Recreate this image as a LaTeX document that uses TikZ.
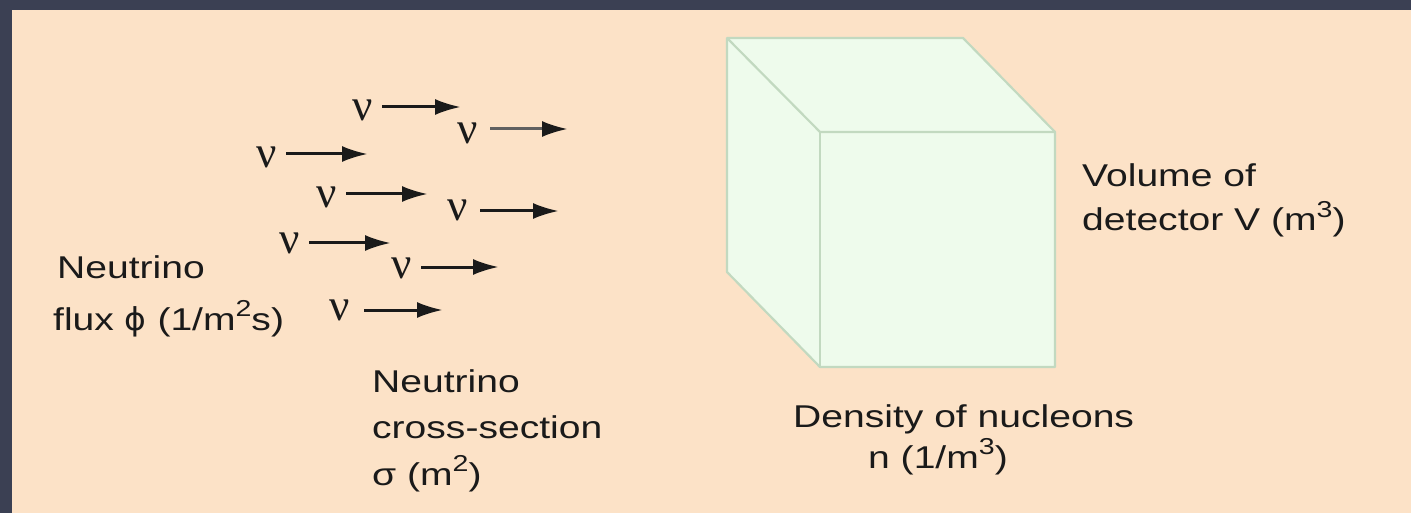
\documentclass[tikz,border=0pt]{standalone}
\usepackage{fontspec}
\setmainfont{Liberation Sans}[FakeStretch=1.24]
\newfontfamily\nufont{Liberation Serif}
\newfontfamily\phifont{DejaVu Sans}[FakeStretch=1.05]
\usetikzlibrary{arrows.meta}
\definecolor{slate}{HTML}{3B4053}
\definecolor{peach}{HTML}{FCE2C7}
\definecolor{cubefill}{HTML}{EEFBEC}
\definecolor{cubeedge}{HTML}{C2D9C0}
\definecolor{ink}{HTML}{1A1A1A}
\tikzset{
  lbl/.style={anchor=base west, inner sep=0pt, text=ink, font=\fontsize{31.5}{31.5}\selectfont},
  nu/.style={inner sep=0pt, text=ink, font=\nufont\fontsize{45}{45}\selectfont},
  nuarrow/.style={line width=3pt, draw=ink, -{Latex[length=26pt,width=16pt]}},
  cubeline/.style={draw=cubeedge, line width=2.2pt, line join=round}
}
\newcommand{\supr}[1]{\raisebox{0.42em}{\fontsize{23}{23}\selectfont #1}}
\begin{document}
\begin{tikzpicture}[x=1pt,y=-1pt]
\useasboundingbox (0,0) rectangle (1411,513);
\fill[slate] (0,0) rectangle (1411,513);
\fill[peach] (12,10) rectangle (1411,513);

% cube
\coordinate (btl) at (727,38);
\coordinate (btr) at (963,38);
\coordinate (ftl) at (820,132);
\coordinate (ftr) at (1055,132);
\coordinate (fbr) at (1055,367);
\coordinate (fbl) at (820,367);
\coordinate (bbl) at (727,272);
\filldraw[cubeline, fill=cubefill] (btl) -- (btr) -- (ftr) -- (fbr) -- (fbl) -- (bbl) -- cycle;
\draw[cubeline] (btl) -- (ftl) -- (ftr);
\draw[cubeline] (ftl) -- (fbl);

% neutrinos
\node[nu] (n1) at (363,110) {ν};
\node[nu] (n2) at (468,133) {ν};
\node[nu] (n3) at (267,157) {ν};
\node[nu] (n4) at (327,197) {ν};
\node[nu] (n5) at (458,210) {ν};
\node[nu] (n6) at (290,243) {ν};
\node[nu] (n7) at (402,268) {ν};
\node[nu] (n8) at (340,310) {ν};

\coordinate (t1) at (461,107);
\coordinate (t2) at (568,129);
\coordinate (t3) at (368,154);
\coordinate (t4) at (428,194);
\coordinate (t5) at (559,211);
\coordinate (t6) at (391,243);
\coordinate (t7) at (499,267);
\coordinate (t8) at (443,310);

\draw[nuarrow] (n1.east |- t1) ++(9,0) -- (t1);
\draw[nuarrow, draw=gray!75!black, -{Latex[length=26pt,width=16pt,color=ink]}] (n2.east |- t2) ++(12,0) -- (t2);
\draw[nuarrow] (n3.east |- t3) ++(9,0) -- (t3);
\draw[nuarrow] (n4.east |- t4) ++(9,0) -- (t4);
\draw[nuarrow] (n5.east |- t5) ++(12,0) -- (t5);
\draw[nuarrow] (n6.east |- t6) ++(9,0) -- (t6);
\draw[nuarrow] (n7.east |- t7) ++(9,0) -- (t7);
\draw[nuarrow] (n8.east |- t8) ++(14,0) -- (t8);

% labels
\node[lbl] (flux1) at (57,278) {Neutrino};
\node[lbl] (flux2) at (53,330) {flux {\phifont ϕ} (1/m\supr{2}s)};

\node[lbl] (cs1) at (372,392) {Neutrino};
\node[lbl] (cs2) at (372,438) {cross-section};
\node[lbl] (cs3) at (372,485) {σ (m\supr{2})};

\node[lbl] (vol1) at (1082,187) {Volume of};
\node[lbl] (vol2) at (1082,231) {detector V (m\supr{3})};

\node[lbl] (den1) at (793,427) {Density of nucleons};
\node[lbl] (den2) at (868,468) {n (1/m\supr{3})};
\end{tikzpicture}
\end{document}
